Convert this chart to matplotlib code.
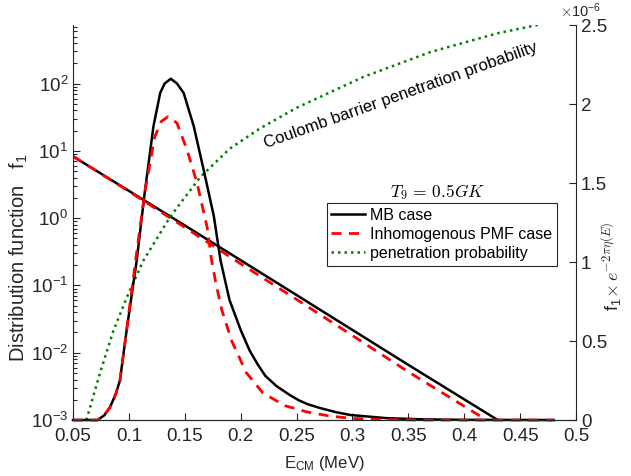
import matplotlib
matplotlib.use('Agg')
import matplotlib.pyplot as plt
from matplotlib.ticker import FuncFormatter, LogLocator, MultipleLocator

plt.rcParams['font.family'] = ['Liberation Sans', 'DejaVu Sans']
plt.rcParams['mathtext.fontset'] = 'cm'
plt.rcParams['font.size'] = 13.5
axcol = '#262626'

# distribution functions (left, log axis)
e_mb = [0.05, 0.15, 0.25, 0.35, 0.43]
f_mb = [8.3, 0.78, 0.072, 0.0066, 0.001]
e_pmf = [0.05, 0.10, 0.15, 0.20, 0.25, 0.30, 0.35, 0.42]
f_pmf = [8.3, 2.5, 0.73, 0.21, 0.062, 0.018, 0.0052, 0.001]

# penetration probability (left, log axis)
e_pen = [0.062, 0.074, 0.086, 0.100, 0.113, 0.137, 0.164, 0.190, 0.217,
         0.250, 0.310, 0.370, 0.430, 0.465, 0.480]
f_pen = [0.001, 0.0049, 0.021, 0.079, 0.235, 1.05, 4.1, 10.7, 21.4,
         43.6, 126, 295, 560, 740, 830]

# f1 x exp(-2 pi eta) in units of 1e-6 (right axis)
e_gmb = [0.05, 0.072, 0.078, 0.083, 0.088, 0.092, 0.098, 0.107, 0.114, 0.122,
         0.128, 0.132, 0.1375, 0.143, 0.149, 0.158, 0.167, 0.176, 0.182, 0.190,
         0.200, 0.208, 0.215, 0.222, 0.232, 0.244, 0.252, 0.260, 0.271, 0.285,
         0.298, 0.330, 0.360, 0.400, 0.480]
g_mb = [0.0, 0.0, 0.03, 0.08, 0.16, 0.25, 0.57, 1.01, 1.43, 1.86,
        2.07, 2.13, 2.16, 2.13, 2.07, 1.86, 1.58, 1.29, 1.01, 0.76,
        0.57, 0.44, 0.355, 0.28, 0.215, 0.158, 0.125, 0.10, 0.076, 0.05,
        0.032, 0.012, 0.005, 0.001, 0.0]
e_gpmf = [0.05, 0.072, 0.078, 0.083, 0.088, 0.092, 0.098, 0.106, 0.114, 0.123,
          0.129, 0.135, 0.143, 0.152, 0.161, 0.170, 0.174, 0.178, 0.183, 0.192,
          0.205, 0.220, 0.240, 0.260, 0.280, 0.300, 0.330, 0.360, 0.480]
g_pmf = [0.0, 0.0, 0.03, 0.08, 0.16, 0.25, 0.57, 1.01, 1.43, 1.79,
         1.89, 1.92, 1.88, 1.71, 1.50, 1.22, 1.01, 0.86, 0.70, 0.50,
         0.30, 0.17, 0.09, 0.05, 0.025, 0.01, 0.003, 0.0, 0.0]

fig = plt.figure(figsize=(6.31, 4.76), dpi=100)
ax = fig.add_axes([0.1157, 0.1176, 0.7971, 0.8298])
ax2 = ax.twinx()

l_mb, = ax.plot(e_mb, f_mb, color='k', lw=1.8)
l_pmf, = ax.plot(e_pmf, f_pmf, color='r', lw=2, dashes=[3.6, 2.7])
l_pen, = ax.plot(e_pen, f_pen, color='#008000', lw=1.8, linestyle=(0, (1, 1.6)))
ax.set_yscale('log')
ax.set_ylim(1e-3, 10 ** 2.87)
ax.set_xlim(0.05, 0.5)

ax2.plot(e_gmb, [v * 1e-6 for v in g_mb], color='k', lw=1.8, clip_on=False)
ax2.plot(e_gpmf, [v * 1e-6 for v in g_pmf], color='r', lw=2, dashes=[3.6, 2.7], clip_on=False)
ax2.set_ylim(0, 2.5e-6)
ax2.yaxis.set_major_locator(MultipleLocator(0.5e-6))
ax2.yaxis.set_major_formatter(FuncFormatter(lambda v, p: '%g' % round(v * 1e6, 3)))
ax2.text(0.968, 1.014, r'$\times\mathregular{10^{-6}}$', transform=ax2.transAxes,
         fontsize=10.5, color=axcol, ha='left', va='bottom')

ax.xaxis.set_major_locator(MultipleLocator(0.05))
ax.xaxis.set_major_formatter(FuncFormatter(lambda v, p: '%g' % round(v, 3)))
ax.yaxis.set_major_locator(LogLocator(base=10, numticks=10))
ax.yaxis.set_minor_locator(LogLocator(base=10, subs=range(2, 10), numticks=20))

for a in (ax, ax2):
    for s in a.spines.values():
        s.set_color(axcol)
        s.set_linewidth(0.8)
    a.spines['top'].set_visible(False)
    a.tick_params(which='both', direction='in', colors=axcol, labelcolor=axcol, width=0.8)
    a.tick_params(which='major', length=5)
    a.tick_params(which='minor', length=3)
ax.spines['right'].set_visible(False)
ax2.spines['left'].set_visible(False)
ax.tick_params(axis='y', which='both', right=False)
ax.tick_params(axis='x', top=False, pad=6)

ax.set_xlabel(r'$\mathregular{E_{CM}}$ (MeV)', color=axcol, fontsize=12)
ax.xaxis.set_label_coords(0.5, -0.085)
ax.set_ylabel(r'Distribution function   $\mathregular{f_1}$', color=axcol, fontsize=14.5)
ax.yaxis.set_label_coords(-0.085, 0.41)
ax2.set_ylabel(r'$\mathregular{f_1}\!\times e^{-2\pi\eta(E)}$', color=axcol, fontsize=13)
ax2.yaxis.set_label_coords(1.045, 0.39)

ax.text(0.652, 0.823, 'Coulomb barrier penetration probability', transform=ax.transAxes,
        rotation=19.6, rotation_mode='anchor', ha='center', va='center', fontsize=12)

ax2.text(0.7256, 0.578, r'$T_9\,=\,0.5GK$', transform=ax2.transAxes, ha='center',
         va='center', fontsize=12.5)
leg = ax2.legend([l_mb, l_pmf, l_pen],
                 ['MB case', 'Inhomogenous PMF case', 'penetration probability'],
                 loc='upper left', bbox_to_anchor=(0.504, 0.549), borderaxespad=0,
                 fancybox=False, edgecolor=axcol, framealpha=1, fontsize=11.5,
                 handlelength=2.1, handletextpad=0.3, borderpad=0.3, labelspacing=0.25)
leg.get_frame().set_linewidth(0.8)

fig.savefig('out.png', dpi=100)
